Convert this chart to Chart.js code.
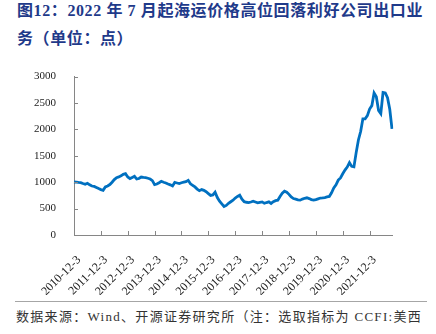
<!DOCTYPE html>
<html>
<head>
<meta charset="utf-8">
<script src="https://cdn.jsdelivr.net/npm/chart.js@4/dist/chart.umd.min.js"></script>
<style>
  body { margin: 0; width: 436px; height: 334px; background: #fff; position: relative; overflow: hidden; }
  #title {
    position: absolute; left: 17px; top: -3px; white-space: nowrap;
    font: bold 16px "Liberation Serif", "Noto Sans CJK SC", sans-serif;
    color: #1F3A8A; line-height: 28px; letter-spacing: 0.6px;
  }
  #box { position: absolute; left: 0; top: 60px; width: 436px; height: 235px; }
  #rule { position: absolute; left: 15px; top: 301px; width: 412px; border-top: 1.5px solid #a6a6a6; }
  #source {
    position: absolute; left: 16px; top: 306px; white-space: nowrap;
    font: 13px "Liberation Serif", "Noto Sans CJK SC", serif;
    color: #333; letter-spacing: 1.3px;
  }
</style>
</head>
<body>
<div id="title">图12：2022 年 7 月起海运价格高位回落利好公司出口业<br>务（单位：点）</div>
<div id="box"><canvas id="FreightChart"></canvas></div>
<div id="rule"></div>
<div id="source">数据来源：Wind、开源证券研究所（注：选取指标为 CCFI:美西</div>
<script>
// year ticks on the x axis, each one starts a run of monthly readings
const tickLabels = ["2010-12-3", "2011-12-3", "2012-12-3", "2013-12-3", "2014-12-3", "2015-12-3",
  "2016-12-3", "2017-12-3", "2018-12-3", "2019-12-3", "2020-12-3", "2021-12-3"]

// CCFI US west coast index, one value per month (Dec .. Nov)
const from2010 = [1004, 1000, 995, 992, 975, 960, 980, 950, 928, 920, 900, 879]
const from2011 = [860, 847, 910, 930, 955, 1000, 1050, 1086, 1100, 1120, 1150, 1162]
const from2012 = [1100, 1068, 1090, 1111, 1060, 1070, 1098, 1090, 1086, 1075, 1060, 1030]
const from2013 = [955, 965, 990, 1017, 1000, 985, 965, 950, 928, 995, 985, 975]
const from2014 = [990, 1000, 1010, 1036, 970, 940, 910, 870, 840, 860, 845, 820]
const from2015 = [785, 750, 760, 810, 710, 640, 590, 540, 560, 600, 630, 660]
const from2016 = [700, 730, 753, 680, 630, 620, 615, 625, 640, 625, 610, 620]
const from2017 = [627, 600, 615, 627, 597, 630, 650, 659, 730, 790, 830, 810]
const from2018 = [770, 720, 690, 680, 665, 660, 680, 695, 705, 690, 670, 660]
const from2019 = [670, 685, 700, 703, 710, 721, 730, 800, 890, 950, 1040, 1080]
const from2020 = [1160, 1230, 1286, 1370, 1300, 1290, 1560, 1800, 1960, 2200, 2200, 2260]
const from2021 = [2386, 2450, 2690, 2620, 2360, 2300, 2700, 2690, 2600, 2380, 2010]

const runs = [from2010, from2011, from2012, from2013, from2014, from2015,
  from2016, from2017, from2018, from2019, from2020, from2021]

const values = []
const months = []
runs.forEach((run, i) => {
  const startYear = 2010 + i
  run.forEach((v, m) => {
    const mon = m === 0 ? 12 : m
    const yr = m === 0 ? startYear : startYear + 1
    months.push(yr + "-" + mon + "-3")
    values.push(v)
  })
})

const AXIS_GREY = "#868686"

// short tick marks pointing into the plot
const innerTicks = {
  id: "innerTicks",
  afterDraw(chart) {
    const { ctx, chartArea, scales } = chart
    ctx.save()
    ctx.strokeStyle = AXIS_GREY
    ctx.lineWidth = 1
    ctx.beginPath()
    scales.x.ticks.forEach((t, i) => {
      const px = Math.round(scales.x.getPixelForTick(i)) + 0.5
      ctx.moveTo(px, chartArea.bottom)
      ctx.lineTo(px, chartArea.bottom - 4)
    })
    scales.y.ticks.forEach((t, i) => {
      const py = Math.round(scales.y.getPixelForTick(i)) + 0.5
      ctx.moveTo(chartArea.left, py)
      ctx.lineTo(chartArea.left + 4, py)
    })
    ctx.stroke()
    ctx.restore()
  },
}

const ctx = document.getElementById("FreightChart").getContext("2d")

new Chart(ctx, {
  type: "line",
  data: {
    labels: months,
    datasets: [
      {
        label: "CCFI:美西",
        data: values,
        borderColor: "#0070C0",
        borderWidth: 2.8,
        pointRadius: 0,
        tension: 0,
        fill: false,
      },
    ],
  },
  options: {
    responsive: true,
    maintainAspectRatio: false,
    animation: false,
    layout: { padding: { left: 0, right: 44, top: 16, bottom: 0 } },
    plugins: { legend: { display: false }, tooltip: { enabled: false } },
    scales: {
      x: {
        type: "category",
        offset: false,
        grid: { display: false },
        border: { display: true, color: AXIS_GREY, width: 1 },
        afterBuildTicks: (scale) => {
          scale.ticks = scale.ticks.filter((t) => tickLabels.includes(months[t.value]))
        },
        afterFit: (scale) => { scale.height = 60 },
        ticks: {
          autoSkip: false,
          minRotation: 45,
          maxRotation: 45,
          padding: 10,
          labelOffset: 5,
          color: "#222",
          font: { family: "Liberation Serif", size: 12 },
        },
      },
      y: {
        min: 0,
        max: 3000,
        grid: { display: false },
        border: { display: true, color: AXIS_GREY, width: 1 },
        afterFit: (scale) => { scale.width = 74 },
        ticks: {
          stepSize: 500,
          padding: 10,
          color: "#222",
          font: { family: "Liberation Serif", size: 11 },
          callback: (v) => String(v),
        },
      },
    },
  },
  plugins: [innerTicks],
})
</script>
</body>
</html>
